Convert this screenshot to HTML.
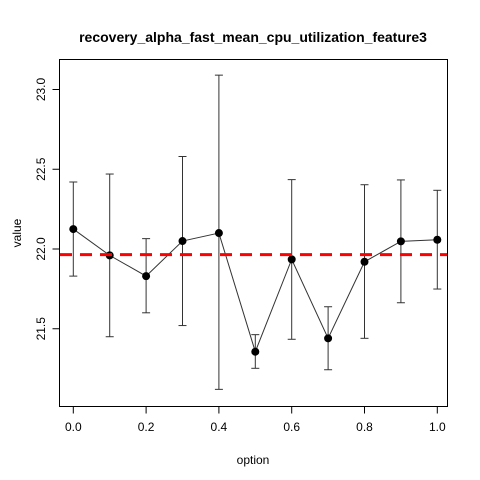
<!DOCTYPE html>
<html><head><meta charset="utf-8"><style>
body{margin:0;background:#fff}
svg{display:block;font-family:"Liberation Sans",Arial,sans-serif}
</style></head><body>
<svg id="chart" width="480" height="480">
<rect x="0" y="0" width="480" height="480" fill="#fff"/>
<text x="253" y="42" text-anchor="middle" font-weight="bold" font-size="14">recovery_alpha_fast_mean_cpu_utilization_feature3</text>
<text x="253" y="464" text-anchor="middle" font-size="12">option</text>
<text transform="translate(21,233) rotate(-90)" text-anchor="middle" font-size="12">value</text>
<rect x="59.5" y="59.5" width="388" height="347" fill="none" stroke="#000"/>
<g id="axes"></g><g id="marks"></g>
</svg>
<script>
const options=[0,0.1,0.2,0.3,0.4,0.5,0.6,0.7,0.8,0.9,1.0];
const means=[22.125,21.96,21.83,22.05,22.10,21.356,21.935,21.44,21.92,22.048,22.058];
const upper=[22.42,22.47,22.065,22.58,23.09,21.463,22.435,21.638,22.403,22.433,22.368];
const lower=[21.83,21.45,21.60,21.52,21.12,21.252,21.434,21.243,21.44,21.663,21.749];
const refLine=21.965;
const xTicks=[0,0.2,0.4,0.6,0.8,1.0];
const xTickLabels=["0.0","0.2","0.4","0.6","0.8","1.0"];
const yTicks=[21.5,22.0,22.5,23.0];
const yTickLabels=["21.5","22.0","22.5","23.0"];
const NS="http://www.w3.org/2000/svg";
function X(v){return 73.3+v*364;}
function Y(v){return 249-(v-22)*159.5;}
function mk(parent,tag,attrs){const e=document.createElementNS(NS,tag);for(const k in attrs)e.setAttribute(k,attrs[k]);parent.appendChild(e);return e;}
const ax=document.getElementById('axes'),mg=document.getElementById('marks');
let l=mk(ax,'line',{x1:X(0),x2:X(1),y1:406.5,y2:406.5,stroke:'#000'});


xTicks.forEach((t,i)=>{
 const tk=mk(ax,'line',{x1:X(t),x2:X(t),y1:406.5,y2:413.5,stroke:'#000'});
 
 
 const tx=mk(ax,'text',{x:X(t),y:431,'text-anchor':'middle','font-size':12});
 tx.textContent=xTickLabels[i];
 
 
});
l=mk(ax,'line',{x1:59.5,x2:59.5,y1:Y(21.5),y2:Y(23),stroke:'#000'});


yTicks.forEach((t,i)=>{
 const tk=mk(ax,'line',{x1:52.5,x2:59.5,y1:Y(t),y2:Y(t),stroke:'#000'});
 
 
 const tx=mk(ax,'text',{transform:`translate(45,${Y(t)}) rotate(-90)`,'text-anchor':'middle','font-size':12});
 tx.textContent=yTickLabels[i];
 
 
});
options.forEach((o,i)=>{
 const g=mk(mg,'g',{stroke:'#333','stroke-width':1});
 
 
 mk(g,'line',{x1:X(o),x2:X(o),y1:Y(upper[i]),y2:Y(lower[i])});
 mk(g,'line',{x1:X(o)-4,x2:X(o)+4,y1:Y(upper[i]),y2:Y(upper[i])});
 mk(g,'line',{x1:X(o)-4,x2:X(o)+4,y1:Y(lower[i]),y2:Y(lower[i])});
});
const pl=mk(mg,'polyline',{points:options.map((o,i)=>X(o)+','+Y(means[i])).join(' '),fill:'none',stroke:'#333'});


options.forEach((o,i)=>{
 const c=mk(mg,'circle',{cx:X(o),cy:Y(means[i]),r:4,fill:'#000'});
 
 
});
const rl=mk(mg,'line',{x1:60,x2:447,y1:Y(refLine),y2:Y(refLine),stroke:'#f00','stroke-width':3,'stroke-dasharray':'12,8'});


</script>
</body></html>
